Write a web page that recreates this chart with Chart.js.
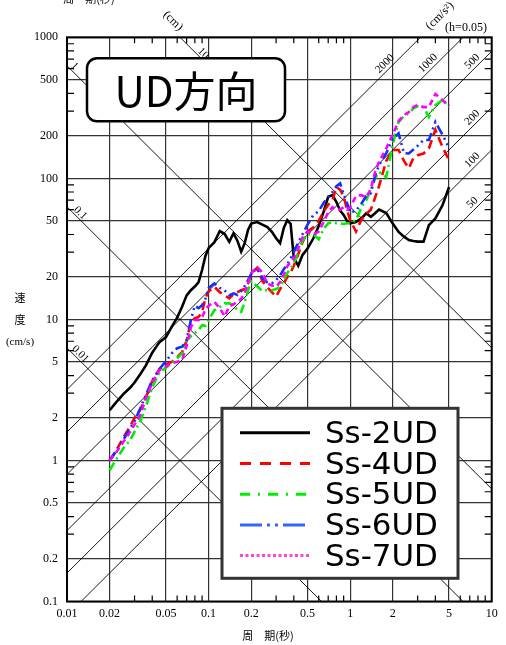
<!DOCTYPE html>
<html lang="ja">
<head>
  <meta charset="UTF-8">
  <title>UD方向 速度応答スペクトル</title>
  <style>
    body { margin: 0; background: #fff; }
    #wrap { width: 506px; height: 645px; }
  </style>
  <script src="https://cdn.jsdelivr.net/npm/chart.js"></script>
</head>
<body>
<div id="wrap"><canvas id="myChart" width="506" height="645"></canvas></div>
<script>
  // periods (s) at which the spectra were read
  const periods = [0.02, 0.022, 0.025, 0.028, 0.03, 0.033, 0.036, 0.04, 0.045, 0.05,
    0.055, 0.06, 0.065, 0.07, 0.075, 0.08, 0.085, 0.09, 0.095, 0.1,
    0.11, 0.12, 0.13, 0.14, 0.15, 0.16, 0.17, 0.18, 0.19, 0.2,
    0.22, 0.24, 0.26, 0.28, 0.3, 0.32, 0.34, 0.36, 0.38, 0.4,
    0.43, 0.46, 0.5, 0.55, 0.6, 0.65, 0.7, 0.75, 0.8, 0.85,
    0.9, 0.95, 1.0, 1.1, 1.2, 1.3, 1.4, 1.5, 1.6, 1.8,
    2.0, 2.2, 2.4, 2.6, 2.8, 3.0, 3.3, 3.6, 4.0, 4.5, 5.0];

  // velocity (cm/s)
  const ss2UD = [2.27, 2.55, 2.95, 3.29, 3.57, 4.1, 4.7, 5.8, 6.9, 7.5,
    8.9, 10.3, 12.3, 14.8, 16.1, 17.1, 18.4, 22.4, 28.2, 32,
    35.3, 42.3, 40.3, 35.5, 40.8, 36, 30.2, 34.7, 43, 47.8,
    49, 47, 45.2, 41.8, 37.6, 34.7, 44.5, 50.6, 47.5, 27.3,
    24, 28.5, 31.8, 37.6, 46, 58, 74, 76, 68, 59,
    55, 50, 48, 49, 52, 56.5, 53.4, 56.5, 60, 56.8,
    47.8, 41.7, 38.6, 36.5, 36, 35.6, 35.6, 46.6, 52, 64.7, 86.9];
  const ss4UD = [1.0, 1.15, 1.45, 1.75, 2.0, 2.3, 2.8, 3.65, 4.45, 4.8,
    5.0, 5.4, 5.85, 7.1, 9.6, 10.2, 10.4, 11.3, 14.1, 15.8,
    17, 15.6, 14.8, 14.1, 15.1, 15.6, 16.1, 16.4, 18, 20.8,
    23.2, 18.7, 16.9, 15.6, 14.5, 16.4, 18, 20, 21.5, 24,
    29, 35, 42, 45, 50, 58, 65, 70, 87, 83,
    75, 60, 50.6, 42, 51, 56, 60, 73, 88, 133,
    159, 159, 133, 118, 140, 146, 150, 163, 221, 166, 135];
  const ss5UD = [0.85, 1.0, 1.22, 1.4, 1.6, 1.9, 2.4, 3.3, 4.2, 4.55,
    4.9, 5.3, 5.75, 7.1, 7.6, 8.0, 8.4, 9.1, 9.0, 9.9,
    11.6, 12.2, 13, 13, 12.6, 11.6, 11.3, 13.3, 16, 18.6,
    17.2, 15.9, 16.1, 16.1, 16.4, 17, 19.2, 21.3, 23, 25,
    30, 36, 40, 40, 37, 44, 48, 49, 48, 48,
    47.5, 48, 48, 50.6, 62, 70, 83, 100, 111, 102,
    175, 250, 277, 289, 314, 324, 320, 272, 331, 359, 324];
  const ss6UD = [1.0, 1.15, 1.4, 1.7, 1.9, 2.35, 2.9, 3.7, 4.45, 5.05,
    5.75, 6.25, 6.4, 7.1, 9.9, 12.5, 12, 12.6, 14, 16.7,
    18, 16.7, 16, 14.8, 15.3, 14.9, 15.9, 17.2, 19, 21,
    23.2, 19.6, 18.3, 18, 19, 20.5, 22.7, 24.6, 27, 30,
    35, 40, 47, 55, 58.5, 67, 74, 80, 88, 92,
    77, 67, 57, 59, 66, 75, 78.5, 104, 124, 151,
    190, 208, 151, 150, 160, 170, 187, 187, 251, 203, 164];
  const ss7UD = [1.0, 1.12, 1.35, 1.6, 1.8, 2.1, 2.75, 3.55, 4.37, 4.65,
    4.9, 5.0, 5.15, 6.5, 8.8, 9.9, 9.9, 10.3, 11.8, 12.5,
    13.3, 12, 10.5, 12.4, 12.8, 13.3, 14, 15.4, 18, 21.2,
    23.6, 21.5, 18, 17.4, 17, 18.4, 20.8, 23.8, 25.5, 27,
    32, 38, 42, 40, 42, 49, 57.5, 62.5, 60, 60,
    62.5, 60, 62, 75, 76, 73.5, 84, 111, 131, 163,
    205, 255, 281, 295, 320, 331, 320, 320, 396, 359, 324];

  const seriesLabels = ['Ss-2UD', 'Ss-4UD', 'Ss-5UD', 'Ss-6UD', 'Ss-7UD'];

  // axis ticks
  const xTickLabels = [0.01, 0.02, 0.05, 0.1, 0.2, 0.5, 1, 2, 5, 10];
  const xMinorTicks = [0.03, 0.04, 0.06, 0.07, 0.08, 0.09, 0.3, 0.4, 0.6, 0.7, 0.8, 0.9, 3, 4, 6, 7, 8, 9];
  const yTickLabels = [0.1, 0.2, 0.5, 1, 2, 5, 10, 20, 50, 100, 200, 500, 1000];
  const yMinorTicks = [0.3, 0.4, 0.6, 0.7, 0.8, 0.9, 3, 4, 6, 7, 8, 9, 30, 40, 60, 70, 80, 90, 300, 400, 600, 700, 800, 900];

  // tripartite guide lines
  const dispLines = [0.01, 0.1, 1, 10];            // cm
  const accLines = [50, 100, 200, 500, 1000, 2000]; // cm/s2

  const serif = "'Liberation Serif', 'DejaVu Serif', serif";
  const gothic = "'Noto Sans CJK JP', 'Noto Sans', sans-serif";
  const legendFont = "'DejaVu Sans', 'Noto Sans', sans-serif";

  const styles = [
    { color: '#000000', dash: [], legendColor: '#000000', legendDash: [], legendWidth: 3 },
    { color: '#ff0000', dash: [9, 5], legendColor: '#ff0000', legendDash: [11, 9], legendWidth: 3 },
    { color: '#00ee00', dash: [9, 4, 2, 4], legendColor: '#00ee00', legendDash: [10, 8, 2, 8], legendWidth: 3 },
    { color: '#1030ff', dash: [10, 4, 2, 4, 2, 4], legendColor: '#3366ff', legendDash: [22, 5, 3, 5, 3, 5], legendWidth: 3 },
    { color: '#ff00ff', dash: [6, 4], legendColor: '#ff44dd', legendDash: [3, 2.5], legendWidth: 3 }
  ];
  const seriesValues = [ss2UD, ss4UD, ss5UD, ss6UD, ss7UD];

  const datasets = seriesValues.map((vals, i) => ({
    label: seriesLabels[i],
    data: periods.map((t, j) => ({ x: t, y: vals[j] })),
    showLine: true,
    borderColor: styles[i].color,
    borderDash: styles[i].dash,
    borderWidth: 2.6,
    pointRadius: 0,
    tension: 0,
    order: 4 - i
  }));

  // guide lines: Sv = 2*pi*D/T and Sv = A*T/(2*pi)
  dispLines.forEach(d => datasets.push({
    data: [{ x: 0.01, y: 2 * Math.PI * d / 0.01 }, { x: 10, y: 2 * Math.PI * d / 10 }],
    showLine: true, borderColor: '#000', borderWidth: 0.9, pointRadius: 0, order: 10
  }));
  accLines.forEach(a => datasets.push({
    data: [{ x: 0.01, y: a * 0.01 / (2 * Math.PI) }, { x: 10, y: a * 10 / (2 * Math.PI) }],
    showLine: true, borderColor: '#000', borderWidth: 0.9, pointRadius: 0, order: 10
  }));

  // label placement for the guide lines (period where the label sits)
  const dispLabelAt = [[0.01, 0.0124, '0.01'], [0.1, 0.0124, '0.1'], [1, 0.0113, '1'], [10, 0.0916, '10']];
  const accLabelAt = [[2000, 1.76, '2000'], [1000, 3.55, '1000'], [500, 7.3, '500'],
    [200, 7.3, '200'], [100, 7.3, '100'], [50, 7.3, '50']];

  const decor = {
    id: 'decor',
    afterDatasetsDraw(chart) {
      const { ctx, chartArea: a, scales: { x, y } } = chart;
      ctx.save();

      // minor ticks on all four edges
      ctx.strokeStyle = '#000';
      ctx.lineWidth = 1.2;
      ctx.beginPath();
      xMinorTicks.forEach(t => {
        const X = x.getPixelForValue(t);
        ctx.moveTo(X, a.top); ctx.lineTo(X, a.top + 6);
        ctx.moveTo(X, a.bottom); ctx.lineTo(X, a.bottom - 6);
      });
      yMinorTicks.forEach(v => {
        const Y = y.getPixelForValue(v);
        ctx.moveTo(a.left, Y); ctx.lineTo(a.left + 7, Y);
        ctx.moveTo(a.right, Y); ctx.lineTo(a.right - 7, Y);
      });
      ctx.stroke();

      // frame
      ctx.lineWidth = 2;
      ctx.strokeRect(a.left, a.top, a.right - a.left, a.bottom - a.top);

      // guide line labels
      ctx.fillStyle = '#000';
      ctx.font = '11px ' + serif;
      ctx.textAlign = 'center';
      ctx.textBaseline = 'middle';
      dispLabelAt.forEach(([d, t, txt]) => {
        const X = x.getPixelForValue(t), Y = y.getPixelForValue(2 * Math.PI * d / t);
        ctx.save(); ctx.translate(X, Y - 7); ctx.rotate(Math.PI / 4); ctx.fillText(txt, 0, 0); ctx.restore();
      });
      accLabelAt.forEach(([acc, t, txt]) => {
        const X = x.getPixelForValue(t), Y = y.getPixelForValue(acc * t / (2 * Math.PI));
        ctx.save(); ctx.translate(X, Y - 9); ctx.rotate(-Math.PI / 4); ctx.fillText(txt, 0, 0); ctx.restore();
      });

      // top annotations
      ctx.font = '12px ' + serif;
      ctx.save(); ctx.translate(173, 21); ctx.rotate(Math.PI / 4); ctx.fillText('(cm)', 0, 0); ctx.restore();
      ctx.save(); ctx.translate(440, 16); ctx.rotate(-Math.PI / 4); ctx.fillText('(cm/s²)', 0, 0); ctx.restore();
      ctx.fillText('(h=0.05)', 466, 28);
      ctx.font = '11px ' + gothic;
      ctx.textBaseline = 'alphabetic';
      ctx.fillText('周　期(秒)', 89, 3);

      // axis titles
      ctx.textBaseline = 'middle';
      ctx.fillText('周　期(秒)', 268, 636);
      ctx.fillText('速', 20, 298);
      ctx.fillText('度', 20, 320);
      ctx.font = '11px ' + serif;
      ctx.fillText('(cm/s)', 20, 342);

      // title box
      const tx = a.left + 20, ty = a.top + 21;
      ctx.fillStyle = '#fff';
      ctx.strokeStyle = '#000';
      ctx.lineWidth = 2.5;
      ctx.beginPath();
      ctx.roundRect(tx, ty, 198, 63, 10);
      ctx.fill(); ctx.stroke();
      ctx.fillStyle = '#000';
      ctx.font = '42px ' + gothic;
      ctx.fillText('UD方向', tx + 99, ty + 33);

      // legend
      const lx = a.left + 155, ly = a.top + 371, lw = 236, lh = 170;
      ctx.fillStyle = '#fff';
      ctx.fillRect(lx, ly, lw, lh);
      ctx.strokeStyle = '#333';
      ctx.lineWidth = 3;
      ctx.strokeRect(lx, ly, lw, lh);
      ctx.font = '30px ' + legendFont;
      const fs = 30 * 113 / ctx.measureText('Ss-2UD').width;
      ctx.font = fs.toFixed(1) + 'px ' + legendFont;
      ctx.textAlign = 'left';
      ctx.textBaseline = 'alphabetic';
      seriesLabels.forEach((lab, i) => {
        const rowY = ly + 24.5 + i * 30.7;
        ctx.save();
        ctx.strokeStyle = styles[i].legendColor;
        ctx.lineWidth = styles[i].legendWidth;
        ctx.setLineDash(styles[i].legendDash);
        ctx.beginPath();
        ctx.moveTo(lx + 18, rowY); ctx.lineTo(lx + 88, rowY);
        ctx.stroke();
        ctx.restore();
        ctx.fillStyle = '#000';
        ctx.fillText(lab, lx + 103, rowY + 10);
      });
      ctx.restore();
    }
  };

  new Chart(document.getElementById('myChart'), {
    type: 'scatter',
    data: { datasets: datasets },
    options: {
      responsive: false,
      animation: false,
      events: [],
      layout: { padding: { left: 0, right: 14.3, top: 37.3, bottom: 0 } },
      plugins: { legend: { display: false }, tooltip: { enabled: false } },
      scales: {
        x: {
          type: 'logarithmic',
          min: 0.01, max: 10,
          afterBuildTicks: s => { s.ticks = xTickLabels.map(v => ({ value: v })); },
          afterFit: s => { s.height = 43.5; },
          grid: { color: '#333', lineWidth: 1.2, drawTicks: false },
          border: { display: false },
          ticks: {
            autoSkip: false, maxRotation: 0, padding: 5, color: '#000',
            font: { family: serif, size: 12 },
            callback: v => String(v)
          }
        },
        y: {
          type: 'logarithmic',
          min: 0.1, max: 1000,
          afterBuildTicks: s => { s.ticks = yTickLabels.map(v => ({ value: v })); },
          afterFit: s => { s.width = 67; },
          grid: { color: '#333', lineWidth: 1.2, drawTicks: false },
          border: { display: false },
          ticks: {
            autoSkip: false, padding: 9, color: '#000',
            font: { family: serif, size: 12 },
            callback: v => String(v)
          }
        }
      }
    },
    plugins: [decor]
  });
</script>
</body>
</html>
